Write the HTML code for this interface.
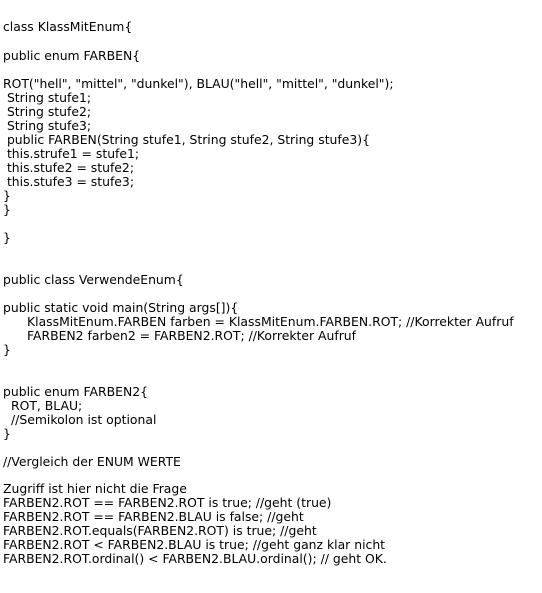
<!DOCTYPE html>
<html><head><meta charset="utf-8"><style>
html,body{margin:0;padding:0;background:#fff;width:542px;height:593px;overflow:hidden}
div{position:absolute;left:3px;font-family:"DejaVu Sans","Liberation Sans",sans-serif;font-size:12.4px;line-height:14px;white-space:pre;color:#000}
</style></head><body>
<div style="top:20px">class KlassMitEnum{</div>
<div style="top:49px">public enum FARBEN{</div>
<div style="top:77px">ROT("hell", "mittel", "dunkel"), BLAU("hell", "mittel", "dunkel");</div>
<div style="top:91px"> String stufe1;</div>
<div style="top:105px"> String stufe2;</div>
<div style="top:119px"> String stufe3;</div>
<div style="top:133px"> public FARBEN(String stufe1, String stufe2, String stufe3){</div>
<div style="top:147px"> this.strufe1 = stufe1;</div>
<div style="top:161px"> this.stufe2 = stufe2;</div>
<div style="top:175px"> this.stufe3 = stufe3;</div>
<div style="top:189px">}</div>
<div style="top:203px">}</div>
<div style="top:231px">}</div>
<div style="top:273px">public class VerwendeEnum{</div>
<div style="top:301px">public static void main(String args[]){</div>
<div style="top:315px;left:27px">KlassMitEnum.FARBEN farben = KlassMitEnum.FARBEN.ROT; //Korrekter Aufruf</div>
<div style="top:329px;left:27px">FARBEN2 farben2 = FARBEN2.ROT; //Korrekter Aufruf</div>
<div style="top:343px">}</div>
<div style="top:385px">public enum FARBEN2{</div>
<div style="top:399px;left:11px">ROT, BLAU;</div>
<div style="top:413px;left:11px">//Semikolon ist optional</div>
<div style="top:427px">}</div>
<div style="top:455px">//Vergleich der ENUM WERTE</div>
<div style="top:482px">Zugriff ist hier nicht die Frage</div>
<div style="top:496px">FARBEN2.ROT == FARBEN2.ROT is true; //geht (true)</div>
<div style="top:510px">FARBEN2.ROT == FARBEN2.BLAU is false; //geht</div>
<div style="top:524px">FARBEN2.ROT.equals(FARBEN2.ROT) is true; //geht</div>
<div style="top:538px">FARBEN2.ROT &lt; FARBEN2.BLAU is true; //geht ganz klar nicht</div>
<div style="top:552px">FARBEN2.ROT.ordinal() &lt; FARBEN2.BLAU.ordinal(); // geht OK.</div>
</body></html>
